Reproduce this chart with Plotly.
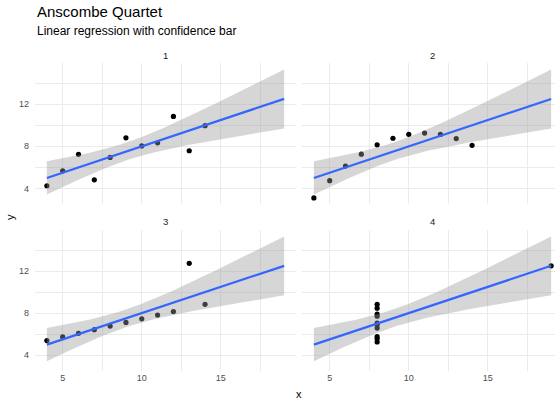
import numpy as np
import plotly.graph_objects as go

# Anscombe quartet data
x123 = [10, 8, 13, 9, 11, 14, 6, 4, 12, 7, 5]
y1 = [8.04, 6.95, 7.58, 8.81, 8.33, 9.96, 7.24, 4.26, 10.84, 4.82, 5.68]
y2 = [9.14, 8.14, 8.74, 8.77, 9.26, 8.10, 6.13, 3.10, 9.13, 7.26, 4.74]
y3 = [7.46, 6.77, 12.74, 7.11, 7.81, 8.84, 6.08, 5.39, 8.15, 6.42, 5.73]
x4 = [8, 8, 8, 8, 8, 8, 8, 19, 8, 8, 8]
y4 = [6.58, 5.76, 7.71, 8.84, 8.47, 7.04, 5.25, 12.50, 5.56, 7.91, 6.89]
panel_labels = ["1", "2", "3", "4"]
x_ticks = [5, 10, 15]
y_ticks = [4, 8, 12]

datasets = [(x123, y1), (x123, y2), (x123, y3), (x4, y4)]

T975_DF9 = 2.262157  # t quantile for 95% CI, df = n - 2 = 9

W, H = 555, 399
ML, MR, MT, MB = 35, 0, 63, 28
PW, PH = W - ML - MR, H - MT - MB


def px_x(p):
    return (p - ML) / PW


def px_y(p):
    return (H - MB - p) / PH


fig = go.Figure()

# full x range over all panels (fullrange smoothing)
all_x = np.array(x123 + x4, dtype=float)
xmin, xmax = all_x.min(), all_x.max()
xs = np.linspace(xmin, xmax, 80)

ymins, ymaxs = [], []
fits = []
for (xd, yd) in datasets:
    xa = np.array(xd, float)
    ya = np.array(yd, float)
    n = len(xa)
    b, a = np.polyfit(xa, ya, 1)
    resid = ya - (a + b * xa)
    s = np.sqrt((resid ** 2).sum() / (n - 2))
    sxx = ((xa - xa.mean()) ** 2).sum()
    fit = a + b * xs
    se = s * np.sqrt(1 / n + (xs - xa.mean()) ** 2 / sxx)
    lo, hi = fit - T975_DF9 * se, fit + T975_DF9 * se
    fits.append((fit, lo, hi))
    ymins += [lo.min(), ya.min()]
    ymaxs += [hi.max(), ya.max()]

ylo, yhi = min(ymins), max(ymaxs)
ypad = (yhi - ylo) * 0.05
yrange = [ylo - ypad, yhi + ypad]
xpad = (xmax - xmin) * 0.05
xrange_full = [xmin - xpad, xmax + xpad]

# panel geometry (pixels)
p1_left, p1_right = 35, 296
p2_left = 302
top1, bot1 = 63, 204.4
top3, bot3 = 230, 371
ppu = (p1_right - p1_left) / (xrange_full[1] - xrange_full[0])
xrange_right = [xrange_full[0], xrange_full[0] + (W - p2_left) / ppu]

for i, ((xd, yd), (fit, lo, hi)) in enumerate(zip(datasets, fits)):
    ax = "" if i == 0 else str(i + 1)
    xref, yref = "x" + ax, "y" + ax
    fig.add_trace(go.Scatter(x=xd, y=yd, mode="markers",
                             marker=dict(color="black", size=5.2),
                             xaxis=xref, yaxis=yref, showlegend=False, hoverinfo="skip"))
    fig.add_trace(go.Scatter(x=np.concatenate([xs, xs[::-1]]),
                             y=np.concatenate([hi, lo[::-1]]),
                             fill="toself", fillcolor="rgba(153,153,153,0.4)",
                             line=dict(width=0), mode="lines",
                             xaxis=xref, yaxis=yref, showlegend=False, hoverinfo="skip"))
    fig.add_trace(go.Scatter(x=xs, y=fit, mode="lines",
                             line=dict(color="#3366FF", width=2.2),
                             xaxis=xref, yaxis=yref, showlegend=False, hoverinfo="skip"))

grid = dict(showgrid=True, gridcolor="#EBEBEB", gridwidth=1.1, zeroline=False,
            showline=False, ticks="",
            tickfont=dict(size=9, color="#4D4D4D", family="Liberation Sans"))

xd1 = [0, px_x(p1_right)]
xd2 = [px_x(p2_left), 1]
yd1 = [px_y(bot1), px_y(top1)]
yd3 = [px_y(bot3), px_y(top3)]

xminor = dict(dtick=2.5, tick0=0, showgrid=True, gridcolor="#EBEBEB", gridwidth=0.6)
yminor = dict(dtick=2, tick0=0, showgrid=True, gridcolor="#EBEBEB", gridwidth=0.6)

layout_axes = {}
for i, (xdom, ydom) in enumerate([(xd1, yd1), (xd2, yd1), (xd1, yd3), (xd2, yd3)]):
    k = "" if i == 0 else str(i + 1)
    xr = xrange_full if i in (0, 2) else xrange_right
    layout_axes["xaxis" + k] = dict(grid, domain=xdom, range=xr, tickvals=x_ticks,
                                    showticklabels=(i >= 2), minor=xminor,
                                    anchor="y" + k)
    layout_axes["yaxis" + k] = dict(grid, domain=ydom, range=yrange, tickvals=y_ticks,
                                    showticklabels=(i in (0, 2)), minor=yminor,
                                    anchor="x" + k, ticklabelstandoff=5)
fig.update_layout(**layout_axes)

ann = []
strip_x = [(p1_left + p1_right) / 2, (p2_left + p2_left + (p1_right - p1_left)) / 2]
strip_y = [55, 221]
for i, lab in enumerate(panel_labels):
    ann.append(dict(text=lab, x=px_x(strip_x[i % 2]), y=px_y(strip_y[i // 2]),
                    xref="paper", yref="paper", showarrow=False,
                    xanchor="center", yanchor="middle",
                    font=dict(size=9.5, color="#1A1A1A", family="Liberation Sans")))
ann.append(dict(text="Anscombe Quartet", x=px_x(35), y=px_y(11), xref="paper", yref="paper",
                showarrow=False, xanchor="left", yanchor="middle",
                font=dict(size=15, color="black", family="Liberation Sans")))
ann.append(dict(text="Linear regression with confidence bar", x=px_x(35), y=px_y(31),
                xref="paper", yref="paper", showarrow=False, xanchor="left", yanchor="middle",
                font=dict(size=12, color="black", family="Liberation Sans")))
ann.append(dict(text="x", x=px_x(299), y=px_y(394), xref="paper", yref="paper",
                showarrow=False, xanchor="center", yanchor="middle",
                font=dict(size=11, color="black", family="Liberation Sans")))
ann.append(dict(text="y", x=px_x(10), y=px_y(217), xref="paper", yref="paper",
                showarrow=False, xanchor="center", yanchor="middle", textangle=-90,
                font=dict(size=11, color="black", family="Liberation Sans")))

fig.update_layout(
    width=W, height=H,
    margin=dict(l=ML, r=MR, t=MT, b=MB, pad=0),
    paper_bgcolor="white", plot_bgcolor="white",
    annotations=ann,
    font=dict(family="Liberation Sans"),
)

fig.write_html("out.html", config=dict(displayModeBar=False))
